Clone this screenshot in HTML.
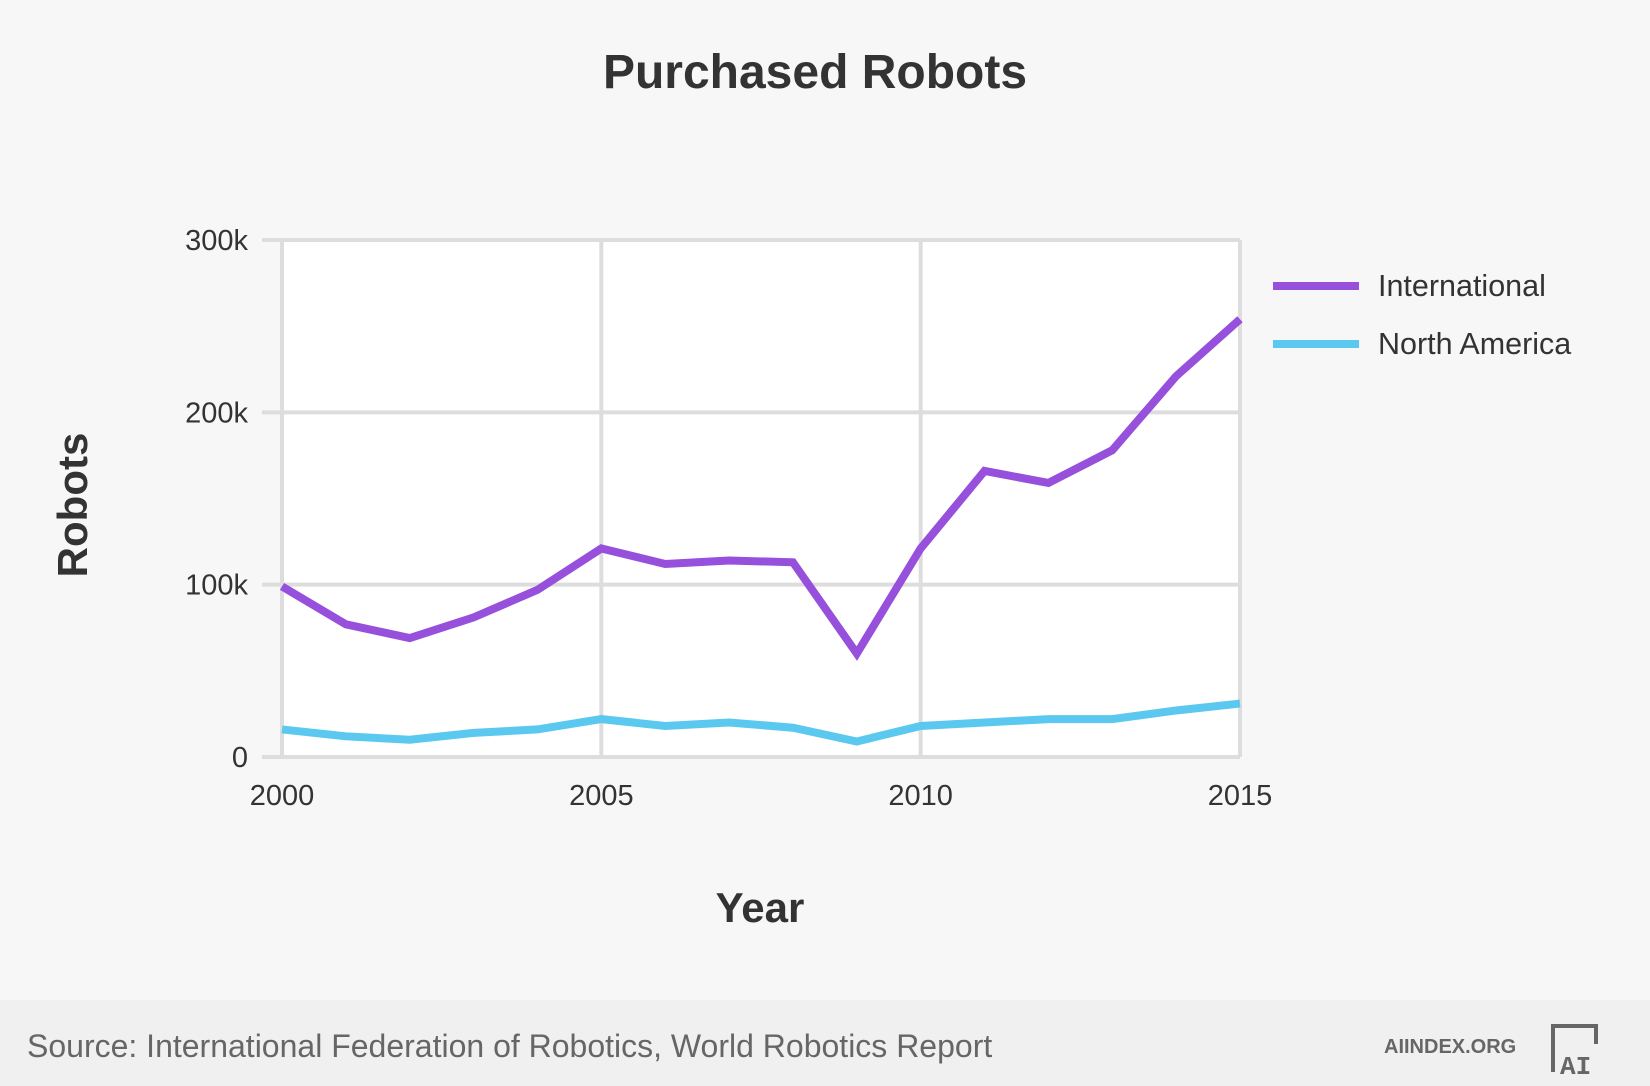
<!DOCTYPE html>
<html><head><meta charset="utf-8"><style>
body{margin:0;width:1650px;height:1086px;background:#f7f7f7;font-family:"Liberation Sans",sans-serif;overflow:hidden;position:relative}
#footer{position:absolute;left:0;top:1000px;width:1650px;height:86px;background:#f0f0f0}
</style></head><body>
<svg id="chart" width="1650" height="1000" style="position:absolute;left:0;top:0"></svg>
<div id="footer">
<div style="position:absolute;left:27px;top:28px;font-size:32px;color:#666">Source: International Federation of Robotics, World Robotics Report</div>
<div style="position:absolute;left:1384px;top:36px;font-size:20px;font-weight:bold;color:#666">AIINDEX.ORG</div>
<svg width="60" height="60" style="position:absolute;left:1548px;top:22px"><path d="M5 50 V4 H48 V22" stroke="#666" stroke-width="4" fill="none"/><text x="12" y="52" font-size="26" font-weight="bold" fill="#666" font-family="Liberation Mono, monospace">AI</text></svg>
</div>
<script>
const years=[2000,2001,2002,2003,2004,2005,2006,2007,2008,2009,2010,2011,2012,2013,2014,2015];
const international=[99,77,69,81,97,121,112,114,113,60,121,166,159,178,221,254];
const northAmerica=[16,12,10,14,16,22,18,20,17,9,18,20,22,22,27,31];
const yTicks=[0,100,200,300];
const xTicks=[2000,2005,2010,2015];
const NS='http://www.w3.org/2000/svg';
const svg=document.getElementById('chart');
const L=282,R=1240,T=240,B=757;
const x=v=>L+(v-2000)/15*(R-L);
const y=v=>B-v/300*(B-T);
function mk(tag,attrs,parent){const e=document.createElementNS(NS,tag);for(const k in attrs)e.setAttribute(k,attrs[k]);(parent||svg).appendChild(e);return e;}
const bg=mk('rect',{x:L,y:T,width:R-L,height:B-T,fill:'#fff'});


yTicks.forEach(v=>{
 const g=mk('line',{x1:L-20,x2:R,y1:y(v),y2:y(v),stroke:'#ddd','stroke-width':4});
 
 
 const t=mk('text',{x:L-34,y:y(v)+10,'text-anchor':'end','font-size':29,fill:'#333'});
 t.textContent=v===0?'0':v+'k';
 
 
});
xTicks.forEach(v=>{
 const g=mk('line',{x1:x(v),x2:x(v),y1:T,y2:B,stroke:'#ddd','stroke-width':4});
 
 
 const t=mk('text',{x:x(v),y:B+48,'text-anchor':'middle','font-size':29,fill:'#333'});
 t.textContent=v;
 
 
});
function series(vals,color,name){
 const p=mk('polyline',{points:vals.map((v,i)=>x(years[i])+','+y(v)).join(' '),fill:'none',stroke:color,'stroke-width':8,'stroke-linejoin':'miter'});
 
 
}
series(northAmerica,'#5bc8ef','north-america-line');
series(international,'#9650dc','international-line');
[['International','#9650dc',286],['North America','#5bc8ef',344]].forEach(([n,c,yy])=>{
 const l=mk('line',{x1:1273,x2:1359,y1:yy,y2:yy,stroke:c,'stroke-width':8});
 
 
 const t=mk('text',{x:1378,y:yy+10,'font-size':30.5,fill:'#333'});
 t.textContent=n;
 
 
});
const title=mk('text',{x:815,y:88,'text-anchor':'middle','font-size':48,'font-weight':'bold',fill:'#333'});
title.textContent='Purchased Robots';


const xt=mk('text',{x:760,y:922,'text-anchor':'middle','font-size':42,'font-weight':'bold',fill:'#333'});
xt.textContent='Year';


const yt=mk('text',{x:0,y:0,'text-anchor':'middle','font-size':42,'font-weight':'bold',fill:'#333',transform:'translate(87,505) rotate(-90)'});
yt.textContent='Robots';


</script>
</body></html>
